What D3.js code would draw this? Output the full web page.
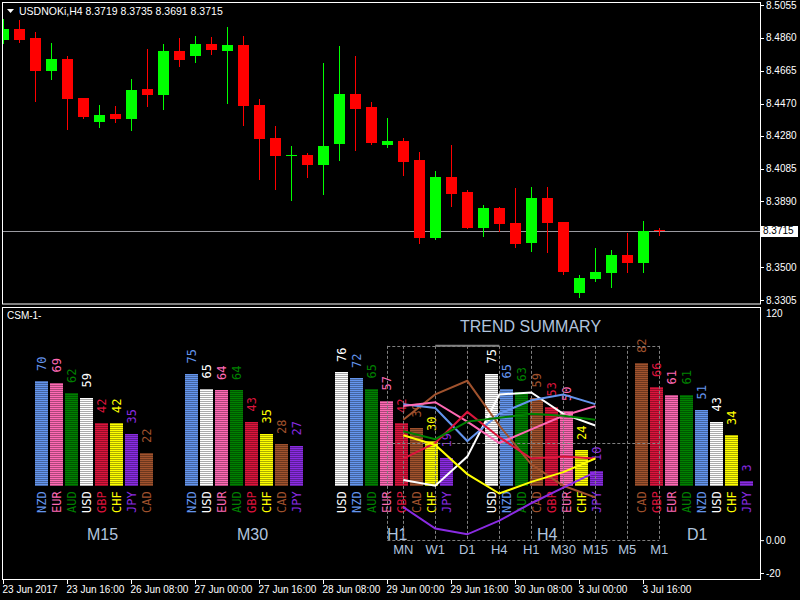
<!DOCTYPE html>
<html>
<head>
<meta charset="utf-8">
<script src="https://cdn.jsdelivr.net/npm/d3@7/dist/d3.min.js"></script>
<style>
  body { margin: 0; background: #000; }
  text { font-family: "Liberation Sans", Arial, sans-serif; }
</style>
</head>
<body>
<div id="chart"></div>
<script>
// ---- price data (USDNOKi, H4) ----
const opens  = [8.4847,8.4913,8.4859,8.4663,8.4735,8.4503,8.4361,8.4408,8.4379,8.4557,8.4521,8.4782,8.4752,8.4824,8.4782,8.4818,8.4462,8.4266,8.4165,8.4165,8.4106,8.4230,8.4527,8.4450,8.4224,8.4248,8.4135,8.3673,8.4035,8.3946,8.3732,8.3851,8.3762,8.3643,8.3910,8.3768,8.3346,8.3430,8.3465,8.3572,8.3524,8.3719];
const highs  = [8.4972,8.4966,8.4895,8.4830,8.4752,8.4503,8.4462,8.4456,8.4616,8.4794,8.4824,8.4859,8.4871,8.4865,8.4925,8.4871,8.4497,8.4337,8.4219,8.4177,8.4711,8.4812,8.4752,8.4480,8.4385,8.4266,8.4183,8.4070,8.4224,8.3958,8.3869,8.3857,8.3969,8.3975,8.3975,8.3768,8.3453,8.3613,8.3602,8.3702,8.3774,8.3735];
const lows   = [8.4830,8.4836,8.4485,8.4616,8.4319,8.4385,8.4331,8.4361,8.4313,8.4456,8.4438,8.4693,8.4717,8.4764,8.4474,8.4343,8.4023,8.3963,8.3898,8.4035,8.3934,8.4135,8.4195,8.4230,8.4213,8.4047,8.3643,8.3667,8.3863,8.3732,8.3685,8.3714,8.3619,8.3596,8.3590,8.3459,8.3323,8.3418,8.3382,8.3471,8.3471,8.3691];
const closes = [8.4913,8.4847,8.4663,8.4735,8.4497,8.4391,8.4402,8.4379,8.4551,8.4521,8.4782,8.4729,8.4824,8.4788,8.4818,8.4456,8.4260,8.4159,8.4167,8.4106,8.4219,8.4527,8.4438,8.4236,8.4248,8.4124,8.3673,8.4035,8.3934,8.3732,8.3851,8.3756,8.3637,8.3910,8.3762,8.3471,8.3435,8.3471,8.3572,8.3524,8.3714,8.3715];
const lastPrice = 8.3715;

const priceTicks = [8.5055,8.4860,8.4665,8.4470,8.4280,8.4085,8.3890,8.3695,8.3500,8.3305];
const dateLabels = ["23 Jun 2017","23 Jun 16:00","26 Jun 08:00","27 Jun 00:00","27 Jun 16:00","28 Jun 08:00","29 Jun 00:00","29 Jun 16:00","30 Jun 08:00","3 Jul 00:00","3 Jul 16:00"];
const dateIdx = [0,4,8,12,16,20,24,28,32,36,40];

// ---- currency strength meter ----
const curColors = {NZD:"#6495ED", EUR:"#FF69B4", AUD:"#008000", USD:"#FFFFFF", GBP:"#DC143C", CHF:"#FFFF00", JPY:"#8A2BE2", CAD:"#A0522D"};

const tfNames = ["M15","M30","H1","H4","D1"];
const m15Cur = ["NZD","EUR","AUD","USD","GBP","CHF","JPY","CAD"];
const m15Val = [70,69,62,59,42,42,35,22];
const m30Cur = ["NZD","USD","EUR","AUD","GBP","CHF","CAD","JPY"];
const m30Val = [75,65,64,64,43,35,28,27];
const h1Cur  = ["USD","NZD","AUD","EUR","GBP","CAD","CHF","JPY"];
const h1Val  = [76,72,65,57,42,39,30,19];
const h4Cur  = ["USD","NZD","AUD","CAD","GBP","EUR","CHF","JPY"];
const h4Val  = [75,65,63,59,53,50,24,10];
const d1Cur  = ["CAD","GBP","EUR","AUD","NZD","USD","CHF","JPY"];
const d1Val  = [82,66,61,61,51,43,34,3];

// trend summary: monthly and weekly strengths (others come from the bars)
const trendFrames = ["MN","W1","D1","H4","H1","M30","M15","M5","M1"];
const trendCur = ["USD","CAD","NZD","EUR","GBP","AUD","CHF","JPY"];
const mnVal    = [31,62,70,69,42,56,54,17];
const w1Val    = [28,75,68,71,50,52,49,6];
const highlightFrames = ["W1","H4"];

const subTicks = [120, 0, -20];
const subTickLabels = ["120","0.00","-20"];

// ---------------------------------------------------------------
const svg = d3.select("#chart").append("svg")
    .attr("width", 800).attr("height", 600)
    .style("display", "block").style("background", "#000");

const defs = svg.append("defs");
defs.append("clipPath").attr("id", "mainClip")
    .append("rect").attr("x", 3).attr("y", 3).attr("width", 757).attr("height", 301);

// scales
const x = d3.scaleLinear().domain([0, opens.length - 1]).range([3.5, 3.5 + 16 * (opens.length - 1)]);
const y = d3.scaleLinear().domain([8.3305, 8.5055]).range([300, 5]);

// main panel frame
svg.append("rect").attr("x", 2.5).attr("y", 2.5).attr("width", 758).attr("height", 301.5)
    .attr("fill", "none").attr("stroke", "#fff");

const main = svg.append("g").attr("clip-path", "url(#mainClip)");

// current price line
main.append("line")
    .attr("x1", 2).attr("x2", 760)
    .attr("y1", Math.round(y(lastPrice)) + 0.5).attr("y2", Math.round(y(lastPrice)) + 0.5)
    .attr("stroke", "#9a9aa0");

const candles = opens.map((o, i) => ({i, o, h: highs[i], l: lows[i], c: closes[i]}));
const cg = main.selectAll("g.candle").data(candles).enter().append("g").attr("class", "candle");
const candleColor = d => d.c >= d.o ? "#00FF00" : "#FF0000";
cg.append("line")
    .attr("x1", d => x(d.i)).attr("x2", d => x(d.i))
    .attr("y1", d => Math.round(y(d.h))).attr("y2", d => Math.round(y(d.l)) + 1)
    .attr("stroke", candleColor);
cg.append("rect")
    .attr("x", d => x(d.i) - 5.5)
    .attr("width", 11)
    .attr("y", d => Math.round(y(Math.max(d.o, d.c))))
    .attr("height", d => Math.max(1, Math.round(y(Math.min(d.o, d.c))) - Math.round(y(Math.max(d.o, d.c)))))
    .attr("fill", candleColor);

// title
svg.append("path").attr("d", "M7,9 L14,9 L10.5,13 Z").attr("fill", "#fff");
svg.append("text").attr("x", 19).attr("y", 15).attr("fill", "#fff").attr("font-size", 10.5)
    .text("USDNOKi,H4  " + [opens, highs, lows, closes].map(a => a[a.length - 1].toFixed(4)).join(" "));

// price axis (the tick hidden under the current price box keeps only its mark)
const pa = svg.append("g");
pa.selectAll("line").data(priceTicks).enter().append("line")
    .attr("x1", 760).attr("x2", 764)
    .attr("y1", d => Math.round(y(d)) + 0.5).attr("y2", d => Math.round(y(d)) + 0.5)
    .attr("stroke", "#fff");
pa.selectAll("text").data(priceTicks.filter(d => Math.abs(y(d) - y(lastPrice)) > 8)).enter().append("text")
    .attr("x", 766).attr("y", d => y(d)).attr("dy", "0.35em")
    .attr("fill", "#fff").attr("font-size", 10)
    .text(d => d.toFixed(4));
svg.append("rect").attr("x", 761).attr("y", Math.round(y(lastPrice)) - 5).attr("width", 37).attr("height", 11).attr("fill", "#fff");
svg.append("text").attr("x", 763).attr("y", y(lastPrice)).attr("dy", "0.35em")
    .attr("fill", "#000").attr("font-size", 10).text(lastPrice.toFixed(4));

// ---- sub window ----
svg.append("rect").attr("x", 2.5).attr("y", 307.5).attr("width", 758).attr("height", 272)
    .attr("fill", "none").attr("stroke", "#fff");
svg.append("text").attr("x", 7).attr("y", 319).attr("fill", "#fff").attr("font-size", 10).text("CSM-1-");

const ySub = d3.scaleLinear().domain([-20, 120]).range([579, 307]);
svg.selectAll("line.subtick").data(subTicks.filter(d => d <= 0)).enter().append("line")
    .attr("class", "subtick")
    .attr("x1", 760).attr("x2", 764)
    .attr("y1", d => Math.min(573, ySub(d)) + 0.5).attr("y2", d => Math.min(573, ySub(d)) + 0.5)
    .attr("stroke", "#fff");
svg.selectAll("text.sublab").data(subTicks).enter().append("text")
    .attr("class", "sublab")
    .attr("x", 766).attr("y", d => Math.max(313, Math.min(573, ySub(d)))).attr("dy", "0.35em")
    .attr("fill", "#fff").attr("font-size", 10)
    .text((d, i) => subTickLabels[i]);

// stripe patterns
Object.keys(curColors).forEach(k => {
  const c = curColors[k];
  const p = defs.append("pattern").attr("id", "st-" + k)
      .attr("patternUnits", "userSpaceOnUse").attr("width", 4).attr("height", 2);
  p.append("rect").attr("width", 4).attr("height", 2).attr("fill", d3.color(c).darker(1.1));
  p.append("rect").attr("width", 4).attr("height", 1).attr("fill", c);
});

const groups = [
  {name: tfNames[0], cur: m15Cur, val: m15Val},
  {name: tfNames[1], cur: m30Cur, val: m30Val},
  {name: tfNames[2], cur: h1Cur,  val: h1Val},
  {name: tfNames[3], cur: h4Cur,  val: h4Val},
  {name: tfNames[4], cur: d1Cur,  val: d1Val}
];
const gx = d3.scaleLinear().domain([0, groups.length - 1]).range([35, 635]);
const bx = d3.scaleLinear().domain([0, 1]).range([0, 15]);
const barY = d3.scaleLinear().domain([0, 100]).range([486, 336]);

const gg = svg.selectAll("g.tf").data(groups).enter().append("g").attr("class", "tf")
    .attr("transform", (d, i) => `translate(${gx(i)},0)`);

gg.each(function (g) {
  const sel = d3.select(this);
  const items = g.cur.map((c, i) => ({c, v: g.val[i], i}));
  sel.selectAll("rect").data(items).enter().append("rect")
      .attr("x", d => bx(d.i)).attr("width", 13)
      .attr("y", d => Math.round(barY(d.v)))
      .attr("height", d => 486 - Math.round(barY(d.v)))
      .attr("fill", d => `url(#st-${d.c})`);
  sel.selectAll("text.val").data(items).enter().append("text").attr("class", "val")
      .attr("transform", d => `translate(${bx(d.i) + 6.5},${barY(d.v) - 10}) rotate(-90)`)
      .attr("dy", "0.35em")
      .attr("fill", d => curColors[d.c])
      .style("font-family", "'DejaVu Sans Mono', monospace").attr("font-size", 12)
      .text(d => d.v);
  sel.selectAll("text.cur").data(items).enter().append("text").attr("class", "cur")
      .attr("transform", d => `translate(${bx(d.i) + 6.5},513) rotate(-90)`)
      .attr("dy", "0.35em")
      .attr("fill", d => curColors[d.c])
      .style("font-family", "'DejaVu Sans Mono', monospace").attr("font-size", 12)
      .text(d => d.c);
  sel.append("text").attr("x", 52).attr("y", 539.5)
      .attr("fill", "#B0C4DE").attr("font-size", 16)
      .text(g.name);
});

// ---- trend summary ----
svg.append("text").attr("x", 460).attr("y", 332).attr("fill", "#B0C4DE").attr("font-size", 16)
    .text("TREND SUMMARY");

const tx = d3.scalePoint().domain(trendFrames).range([403.3, 659.3]);
const boxL = tx(trendFrames[0]) - tx.step() / 2;
const boxR = tx(trendFrames[trendFrames.length - 1]);
const grid = svg.append("g").attr("stroke", "#808080").attr("stroke-dasharray", "3,2").attr("fill", "none");
grid.selectAll("line.v").data([boxL].concat(trendFrames.map(f => tx(f)))).enter().append("line")
    .attr("x1", d => Math.round(d) + 0.5).attr("x2", d => Math.round(d) + 0.5)
    .attr("y1", ySub(100)).attr("y2", ySub(0));
grid.selectAll("line.h").data([100, 50, 0]).enter().append("line")
    .attr("x1", boxL).attr("x2", boxR)
    .attr("y1", d => Math.round(ySub(d)) + 0.5).attr("y2", d => Math.round(ySub(d)) + 0.5);
svg.append("line")
    .attr("x1", tx(highlightFrames[0])).attr("x2", tx(highlightFrames[1]))
    .attr("y1", ySub(100)).attr("y2", ySub(100))
    .attr("stroke", "#808080").attr("stroke-width", 2);

const lookup = (cur, g) => g.val[g.cur.indexOf(cur)];
const seriesFrames = trendFrames.slice(0, 7);
const trendSeries = trendCur.map((c, i) => ({
  c,
  vals: [mnVal[i], w1Val[i], lookup(c, groups[4]), lookup(c, groups[3]), lookup(c, groups[2]), lookup(c, groups[1]), lookup(c, groups[0])]
}));
const line = d3.line().x((d, i) => tx(seriesFrames[i])).y(d => ySub(d));
svg.selectAll("path.trend").data(trendSeries).enter().append("path").attr("class", "trend")
    .attr("d", d => line(d.vals))
    .attr("fill", "none").attr("stroke", d => curColors[d.c]).attr("stroke-width", 2);

svg.selectAll("text.tfl").data(trendFrames).enter().append("text").attr("class", "tfl")
    .attr("x", d => tx(d)).attr("y", 553.5).attr("text-anchor", "middle")
    .attr("fill", "#B0C4DE").attr("font-size", 13)
    .text(d => d);

// ---- time axis ----
svg.selectAll("line.xt").data(dateIdx).enter().append("line").attr("class", "xt")
    .attr("x1", d => x(d)).attr("x2", d => x(d)).attr("y1", 580).attr("y2", 584)
    .attr("stroke", "#fff");
svg.selectAll("text.xl").data(dateIdx).enter().append("text").attr("class", "xl")
    .attr("x", d => x(d) - 1).attr("y", 593)
    .attr("fill", "#fff").attr("font-size", 10)
    .text((d, i) => dateLabels[i]);
</script>
</body>
</html>
